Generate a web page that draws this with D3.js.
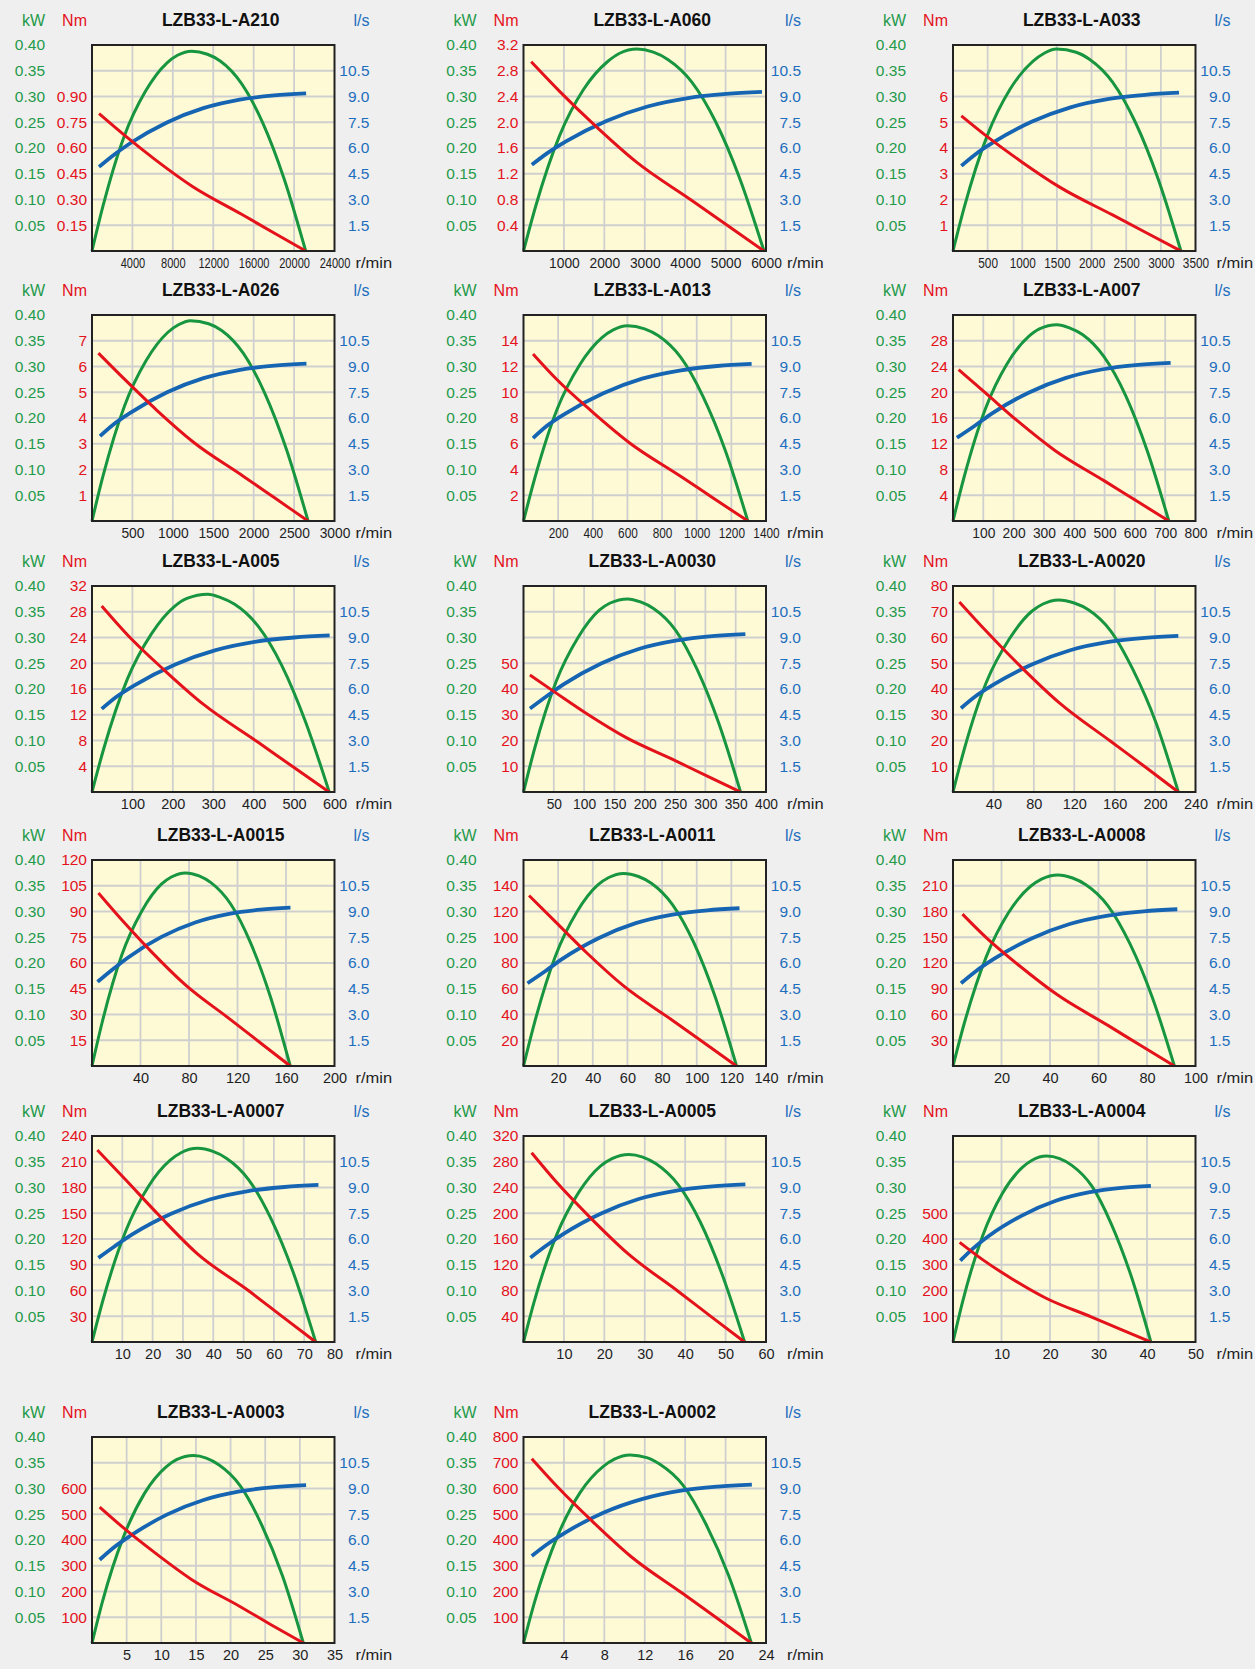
<!DOCTYPE html>
<html><head><meta charset="utf-8">
<script src="https://cdn.jsdelivr.net/npm/d3@7"></script>
<style>
body{margin:0;background:#efefef;}
svg{display:block;font-family:"Liberation Sans",Arial,sans-serif;}
</style>
</head><body>
<svg id="chart" width="1255" height="1669"></svg>
<script>
// ---------------- DATA ----------------
const titles = ["LZB33-L-A210","LZB33-L-A060","LZB33-L-A033","LZB33-L-A026","LZB33-L-A013","LZB33-L-A007",
  "LZB33-L-A005","LZB33-L-A0030","LZB33-L-A0020","LZB33-L-A0015","LZB33-L-A0011","LZB33-L-A0008",
  "LZB33-L-A0007","LZB33-L-A0005","LZB33-L-A0004","LZB33-L-A0003","LZB33-L-A0002"];

const rpmMax = [24000,6000,3500,3000,1400,800,600,400,240,200,140,100,80,60,50,35,24];
const rpmTicks = [
  [4000,8000,12000,16000,20000,24000],[1000,2000,3000,4000,5000,6000],[500,1000,1500,2000,2500,3000,3500],
  [500,1000,1500,2000,2500,3000],[200,400,600,800,1000,1200,1400],[100,200,300,400,500,600,700,800],
  [100,200,300,400,500,600],[50,100,150,200,250,300,350,400],[40,80,120,160,200,240],
  [40,80,120,160,200],[20,40,60,80,100,120,140],[20,40,60,80,100],
  [10,20,30,40,50,60,70,80],[10,20,30,40,50,60],[10,20,30,40,50],[5,10,15,20,25,30,35],[4,8,12,16,20,24]];

const kwMax = 0.40;
const kwTicks = ["0.05","0.10","0.15","0.20","0.25","0.30","0.35","0.40"];
const lsMax = 12;
const lsTicks = ["1.5","3.0","4.5","6.0","7.5","9.0","10.5"];
const nmMax = [1.2,3.2,8,8,16,32,32,80,80,120,160,240,240,320,800,800,800];
const nmTicks = [
  ["0.15","0.30","0.45","0.60","0.75","0.90"],
  ["0.4","0.8","1.2","1.6","2.0","2.4","2.8","3.2"],
  ["1","2","3","4","5","6"],
  ["1","2","3","4","5","6","7"],
  ["2","4","6","8","10","12","14"],
  ["4","8","12","16","20","24","28"],
  ["4","8","12","16","20","24","28","32"],
  ["10","20","30","40","50"],
  ["10","20","30","40","50","60","70","80"],
  ["15","30","45","60","75","90","105","120"],
  ["20","40","60","80","100","120","140"],
  ["30","60","90","120","150","180","210"],
  ["30","60","90","120","150","180","210","240"],
  ["40","80","120","160","200","240","280","320"],
  ["100","200","300","400","500"],
  ["100","200","300","400","500","600"],
  ["100","200","300","400","500","600","700","800"]];

// power curve (kW) vs speed (r/min)
const powerRpm = [
  [0,1058,3173,5288,7403,8460,9870,11421,12690,14805,16920,19035,21150],
  [0,298,893,1488,2083,2380,2806,3213,3570,4165,4760,5355,5950],
  [0,165,494,823,1152,1316,1496,1777,1974,2303,2632,2961,3290],
  [0,134,401,668,936,1069,1218,1443,1604,1871,2138,2406,2673],
  [0,65,194,324,453,518,600,699,777,907,1036,1166,1295],
  [0,36,107,178,249,285,343,384,427,498,570,641,712],
  [0,29,88,147,205,235,287,317,352,411,470,528,587],
  [0,18,54,90,125,143,172,193,215,251,286,322,358],
  [0,11,33,56,78,89,104.5,120,134,156,178,201,223],
  [0,8.2,24.5,40.9,57.2,65.4,77.2,88.3,98.1,114.5,130.8,147.2,163.5],
  [0,6.2,18.5,30.8,43.1,49.2,57.8,66.4,73.8,86.1,98.4,110.7,123],
  [0,4.6,13.7,22.8,32,36.5,43.3,49.3,54.8,63.9,73,82.2,91.3],
  [0,3.7,11.1,18.5,25.8,29.5,34.8,39.9,44.3,51.7,59,66.4,73.8],
  [0,2.7,8.2,13.7,19.1,21.9,26.1,29.5,32.8,38.3,43.8,49.2,54.7],
  [0,2.0,6.1,10.2,14.3,16.3,19.3,22.0,24.5,28.6,32.6,36.7,40.8],
  [0,1.5,4.6,7.6,10.7,12.2,14.66,16.5,18.3,21.4,24.4,27.5,30.5],
  [0,1.1,3.4,5.6,7.9,9.0,10.55,12.2,13.5,15.8,18,20.3,22.55]];
const powerKW = [
  [0,0.085,0.222,0.310,0.365,0.380,0.388,0.382,0.369,0.325,0.248,0.139,0],
  [0,0.086,0.224,0.314,0.368,0.384,0.392,0.386,0.372,0.328,0.250,0.140,0],
  [0,0.086,0.224,0.314,0.368,0.384,0.392,0.386,0.372,0.328,0.250,0.140,0],
  [0,0.086,0.223,0.311,0.366,0.381,0.389,0.383,0.370,0.326,0.248,0.139,0],
  [0,0.083,0.217,0.303,0.356,0.371,0.379,0.373,0.360,0.318,0.242,0.136,0],
  [0,0.084,0.218,0.305,0.358,0.373,0.381,0.375,0.362,0.319,0.243,0.136,0],
  [0,0.084,0.220,0.307,0.361,0.376,0.384,0.378,0.365,0.322,0.245,0.137,0],
  [0,0.083,0.215,0.300,0.353,0.367,0.375,0.369,0.356,0.314,0.239,0.134,0],
  [0,0.082,0.213,0.298,0.351,0.365,0.373,0.367,0.354,0.313,0.238,0.134,0],
  [0,0.083,0.215,0.300,0.353,0.367,0.375,0.369,0.356,0.314,0.239,0.134,0],
  [0,0.082,0.214,0.299,0.352,0.366,0.374,0.368,0.355,0.313,0.239,0.134,0],
  [0,0.082,0.212,0.297,0.349,0.363,0.371,0.365,0.352,0.311,0.237,0.133,0],
  [0,0.083,0.215,0.301,0.353,0.368,0.376,0.370,0.357,0.315,0.240,0.135,0],
  [0,0.080,0.208,0.291,0.342,0.356,0.364,0.359,0.346,0.305,0.232,0.130,0],
  [0,0.079,0.206,0.289,0.339,0.353,0.361,0.356,0.343,0.303,0.230,0.129,0],
  [0,0.080,0.208,0.291,0.342,0.356,0.364,0.359,0.346,0.305,0.232,0.130,0],
  [0,0.080,0.209,0.292,0.343,0.357,0.365,0.360,0.347,0.306,0.233,0.131,0]];

// torque curve (Nm) vs speed
const torqueRpm = [
  [693,3173,6345,9941,14805,17978,21150],
  [190,893,1785,2797,4165,5058,5950],
  [120,494,987,1546,2303,2797,3290],
  [79,401,802,1256,1871,2272,2673],
  [55,194,389,609,907,1101,1295],
  [18.5,107,214,335,498,605,712],
  [24,88,176,276,411,499,587],
  [10.6,54,107,168,251,304,358],
  [6.3,33,67,105,156,190,223],
  [5.3,24.5,49.1,76.8,114.5,139,163.5],
  [3.2,18.5,36.9,57.8,86.1,104.6,123],
  [3.9,13.7,27.4,42.9,63.9,77.6,91.3],
  [1.77,11.1,22.1,34.7,51.7,62.7,73.8],
  [2.0,8.2,16.4,25.7,38.3,46.5,54.7],
  [1.37,6.1,12.2,19.2,28.6,34.7,40.8],
  [1.1,4.6,9.2,14.3,21.4,25.9,30.5],
  [0.82,3.4,6.8,10.6,15.8,19.2,22.55]];
const torqueNm = [
  [0.80,0.676,0.528,0.376,0.214,0.106,0],
  [2.94,2.48,1.94,1.38,0.785,0.391,0],
  [5.25,4.44,3.47,2.47,1.40,0.70,0],
  [6.52,5.51,4.30,3.06,1.74,0.87,0],
  [12.98,10.97,8.57,6.10,3.47,1.73,0],
  [23.5,19.9,15.5,11.0,6.27,3.13,0],
  [28.9,24.4,19.1,13.6,7.72,3.84,0],
  [45.4,38.4,30.0,21.3,12.1,6.04,0],
  [73.8,62.4,48.7,34.7,19.7,9.8,0],
  [100.8,85.2,66.5,47.4,26.9,13.4,0],
  [132.4,111.9,87.4,62.2,35.4,17.6,0],
  [177,149.6,116.8,83.2,47.3,23.5,0],
  [223.7,189,147.6,103,59.7,29.8,0],
  [294,248,194,138,78.5,39.1,0],
  [387,320,245,170,97,48,0],
  [528,446,348,248,141,70,0],
  [716,605,473,337,191,95,0]];

// flow curve (l/s) vs speed
const flowRpm = [
  [693,2119,3814,7417,11019,14621,18012,21190],
  [206,590,1062,2065,3069,4072,5016,5901],
  [120,326,587,1142,1696,2251,2773,3262],
  [99,265,478,929,1380,1831,2255,2653],
  [55,132,237,461,685,909,1119,1317],
  [13,72,129,251,373,495,610,718],
  [24,59,106,206,306,406,500,588],
  [10.6,37,66,128,190,253,311,366],
  [7.9,22,40,78,116,154,190,223],
  [4.6,16.4,29.5,57.3,85.1,113,139,163.7],
  [2.3,12.5,22.4,43.6,64.8,86,106,124.7],
  [3.3,9.3,16.7,32.4,48.1,63.8,78.6,92.5],
  [2.1,7.5,13.4,26.1,38.8,51.5,63.5,74.7],
  [1.7,5.5,9.9,19.2,28.5,37.9,46.7,54.9],
  [1.5,4.1,7.3,14.3,21.2,28.2,34.7,40.8],
  [1.1,3.1,5.6,10.8,16.1,21.3,26.3,30.9],
  [0.82,2.3,4.1,7.9,11.8,15.6,19.2,22.6]];
const flowLs = [
  [4.90,5.58,6.29,7.49,8.32,8.82,9.06,9.18],
  [5.02,5.70,6.40,7.59,8.42,8.91,9.15,9.27],
  [4.96,5.64,6.34,7.54,8.37,8.86,9.10,9.22],
  [4.94,5.62,6.31,7.50,8.32,8.81,9.05,9.17],
  [4.83,5.52,6.23,7.44,8.29,8.78,9.03,9.15],
  [4.85,5.55,6.27,7.49,8.34,8.84,9.09,9.21],
  [4.84,5.52,6.23,7.43,8.26,8.76,9.00,9.12],
  [4.86,5.55,6.27,7.49,8.33,8.83,9.08,9.20],
  [4.88,5.56,6.25,7.43,8.26,8.74,8.98,9.10],
  [4.90,5.59,6.31,7.52,8.36,8.86,9.11,9.23],
  [4.82,5.52,6.24,7.46,8.32,8.82,9.07,9.19],
  [4.82,5.51,6.22,7.43,8.27,8.76,9.01,9.13],
  [4.90,5.58,6.28,7.47,8.30,8.79,9.03,9.15],
  [4.91,5.59,6.30,7.49,8.33,8.82,9.06,9.18],
  [4.74,5.44,6.16,7.38,8.23,8.73,8.98,9.10],
  [4.85,5.55,6.26,7.48,8.33,8.83,9.08,9.20],
  [5.07,5.74,6.42,7.59,8.40,8.88,9.11,9.23]];

// ---------------- LAYOUT / STYLE ----------------
const colLeft = [92, 523.5, 953];
const rowTop = [45, 315, 586, 860, 1136, 1437];
const W = 242.5, H = 206;
const C = {green:"#17953f", greenText:"#1f9a4a", red:"#e3121b", blue:"#1565b3", blueText:"#1d6ebd",
           fill:"#fffad6", grid:"#cfcfcf", frame:"#222", title:"#111", ink:"#1e1e1e"};
const FONT = '"Liberation Sans",Arial,sans-serif';

const svg = d3.select("#chart");
svg.append("rect").attr("width",1255).attr("height",1669).attr("fill","#efefef");

titles.forEach((title, i) => {
  const L = colLeft[i % 3], T = rowTop[Math.floor(i / 3)], R = L + W, B = T + H;
  const x = d3.scaleLinear().domain([0, rpmMax[i]]).range([L, R]);
  const yKW = d3.scaleLinear().domain([0, kwMax]).range([B, T]);
  const yNm = d3.scaleLinear().domain([0, nmMax[i]]).range([B, T]);
  const yLs = d3.scaleLinear().domain([0, lsMax]).range([B, T]);
  const g = svg.append("g");

  g.append("rect").attr("x",L).attr("y",T).attr("width",W).attr("height",H).attr("fill",C.fill);
  // grid
  g.append("g").selectAll("line").data(rpmTicks[i].filter(v => v < rpmMax[i])).join("line")
    .attr("x1", d => x(d)).attr("x2", d => x(d)).attr("y1",T).attr("y2",B)
    .attr("stroke",C.grid).attr("stroke-width",1.8);
  g.append("g").selectAll("line").data(kwTicks.map(Number).filter(v => v < kwMax)).join("line")
    .attr("x1",L).attr("x2",R).attr("y1", d => yKW(d)).attr("y2", d => yKW(d))
    .attr("stroke",C.grid).attr("stroke-width",1.8);

  // curves
  const mono = d3.line().curve(d3.curveMonotoneX);
  g.append("path").attr("d", mono(powerRpm[i].map((r,k) => [x(r), yKW(powerKW[i][k])])))
    .attr("fill","none").attr("stroke",C.green).attr("stroke-width",3);
  g.append("path").attr("d", mono(flowRpm[i].map((r,k) => [x(r), yLs(flowLs[i][k])])))
    .attr("fill","none").attr("stroke",C.blue).attr("stroke-width",3.8);
  g.append("path").attr("d", mono(torqueRpm[i].map((r,k) => [x(r), yNm(torqueNm[i][k])])))
    .attr("fill","none").attr("stroke",C.red).attr("stroke-width",3);

  // frame
  g.append("rect").attr("x",L).attr("y",T).attr("width",W).attr("height",H)
    .attr("fill","none").attr("stroke",C.frame).attr("stroke-width",2);

  // axes
  const styleAxis = (sel, color, size) => {
    sel.select(".domain").remove();
    sel.selectAll("text").attr("fill", color).style("font-size", size + "px").style("font-family", FONT);
  };
  g.append("g").attr("transform",`translate(${L-47},0)`)
    .call(d3.axisLeft(yKW).tickValues(kwTicks.map(Number)).tickFormat((d,k) => kwTicks[k]).tickSize(0).tickPadding(0))
    .call(s => styleAxis(s, C.greenText, 15.5));
  g.append("g").attr("transform",`translate(${L-5},0)`)
    .call(d3.axisLeft(yNm).tickValues(nmTicks[i].map(Number)).tickFormat((d,k) => nmTicks[i][k]).tickSize(0).tickPadding(0))
    .call(s => styleAxis(s, C.red, 15.5));
  g.append("g").attr("transform",`translate(${R+35},0)`)
    .call(d3.axisLeft(yLs).tickValues(lsTicks.map(Number)).tickFormat((d,k) => lsTicks[k]).tickSize(0).tickPadding(0))
    .call(s => styleAxis(s, C.blueText, 15.5));
  const xa = g.append("g").attr("transform",`translate(0,${B})`)
    .call(d3.axisBottom(x).tickValues(rpmTicks[i]).tickFormat(d3.format("d")).tickSize(0).tickPadding(7))
    .call(s => styleAxis(s, C.ink, 14.5));
  // condense long speed labels horizontally so they fit the grid columns
  const colW = x(rpmTicks[i][1]) - x(rpmTicks[i][0]);
  const texts = xa.selectAll("text").nodes();
  const maxW = d3.max(texts, t => t.getComputedTextLength());
  const k = Math.min(1, colW * 0.76 / maxW);
  if (k < 1) texts.forEach(t => t.setAttribute("transform", `scale(${k.toFixed(3)},1)`));

  // headers
  const hy = T - 19;
  g.append("text").attr("x",L-47).attr("y",hy).attr("text-anchor","end").attr("fill",C.greenText)
    .style("font-size","16px").text("kW");
  g.append("text").attr("x",L-5).attr("y",hy).attr("text-anchor","end").attr("fill",C.red)
    .style("font-size","16px").text("Nm");
  g.append("text").attr("x",R+35).attr("y",hy).attr("text-anchor","end").attr("fill",C.blueText)
    .style("font-size","16px").text("l/s");
  g.append("text").attr("x",L+W/2+7.5).attr("y",hy).attr("text-anchor","middle").attr("fill",C.title)
    .style("font-size","17.5px").style("font-weight","bold").text(title);
  g.append("g").attr("transform",`translate(${R+21},${B+17})`)
    .append("text").attr("fill",C.ink).style("font-size","15px")
    .attr("transform","scale(1.1,1)").text("r/min");
});
</script>
</body></html>
